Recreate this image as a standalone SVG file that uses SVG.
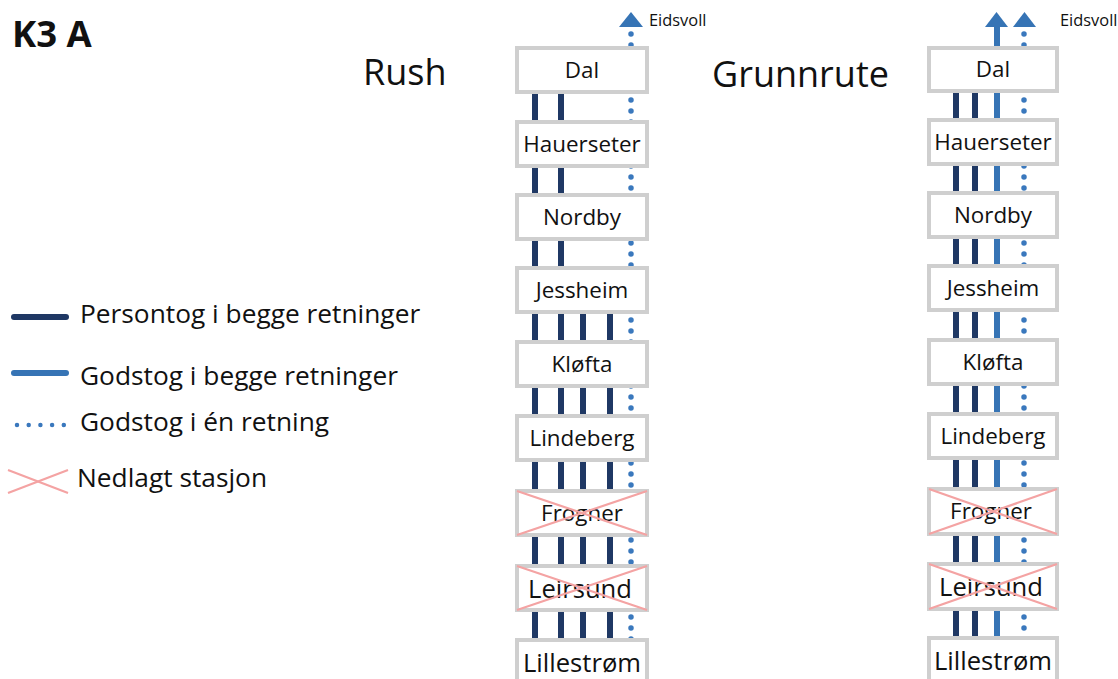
<svg xmlns="http://www.w3.org/2000/svg" width="1118" height="679" viewBox="0 0 1118 679">
  <style>
    text { font-family: "Open Sans", "Noto Sans", "Liberation Sans", sans-serif; fill: #111; }
    .st { font-size: 22.4px; text-anchor: middle; }
    .big { font-size: 25.6px; }
    .title { font-size: 36px; }
    .leg { font-size: 26.3px; }
    .small { font-size: 16.4px; }
    .box { fill: #fff; stroke: #cfcfcf; stroke-width: 4; }
    .pers { stroke: #1f3864; stroke-width: 6; fill: none; }
    .gods { stroke: #3674b5; stroke-width: 6; fill: none; }
    .dots { stroke: #3a78bd; stroke-width: 5.5; stroke-linecap: round; stroke-dasharray: 0 11; fill: none; }
    .cross { stroke: #f4a3a3; stroke-width: 2.2; fill: none; }
    .arrow { fill: #3674b5; }
  </style>

  <rect width="1118" height="679" fill="#fff"/>

  <!-- headings -->
  <text x="12" y="47" style="font-size:36.5px;font-weight:bold">K3 A</text>
  <text x="363" y="85" class="title">Rush</text>
  <text x="712" y="87" class="title">Grunnrute</text>

  <!-- legend -->
  <g id="legend">
    <line x1="14" y1="317" x2="66" y2="317" class="pers" stroke-linecap="round"/>
    <text x="80" y="323" class="leg">Persontog i begge retninger</text>
    <line x1="14" y1="373" x2="66" y2="373" class="gods" stroke-linecap="round"/>
    <text x="80" y="385" class="leg">Godstog i begge retninger</text>
    <line x1="17" y1="425" x2="64" y2="425" class="dots" style="stroke-width:4.5;stroke-dasharray:0 11.7"/>
    <text x="80" y="431" class="leg">Godstog i én retning</text>
    <line x1="8" y1="470" x2="68" y2="493" class="cross"/>
    <line x1="8" y1="493" x2="68" y2="470" class="cross"/>
    <text x="77" y="487" class="leg">Nedlagt stasjon</text>
  </g>

  <!-- connectors -->
  <g id="connectors">
    <!-- Rush -->
    <line x1="535" y1="80" x2="535" y2="679" class="pers"/>
    <line x1="561" y1="80" x2="561" y2="679" class="pers"/>
    <line x1="583" y1="290" x2="583" y2="679" class="pers"/>
    <line x1="610" y1="290" x2="610" y2="679" class="pers"/>
    <line x1="631" y1="34" x2="631" y2="679" class="dots"/>
    <polygon points="619,27 643,27 631,12" class="arrow"/>
    <!-- Grunnrute -->
    <line x1="956" y1="80" x2="956" y2="679" class="pers"/>
    <line x1="975" y1="80" x2="975" y2="679" class="pers"/>
    <line x1="997" y1="24" x2="997" y2="679" class="gods"/>
    <polygon points="985,27 1008,27 996.5,12" class="arrow"/>
    <line x1="1024" y1="34" x2="1024" y2="679" class="dots"/>
    <polygon points="1013,27 1036,27 1024.5,12" class="arrow"/>
  </g>

  <text x="649" y="26" class="small">Eidsvoll</text>
  <text x="1060" y="26" class="small">Eidsvoll</text>

  <!-- Rush stations -->
  <g id="r-dal"><rect x="517" y="48" width="130" height="44" class="box"/><text x="582" y="78" class="st">Dal</text></g>
  <g id="r-hauerseter"><rect x="517" y="122" width="130" height="44" class="box"/><text x="582" y="152" class="st">Hauerseter</text></g>
  <g id="r-nordby"><rect x="517" y="195" width="130" height="44" class="box"/><text x="582" y="225" class="st">Nordby</text></g>
  <g id="r-jessheim"><rect x="517" y="268" width="130" height="44" class="box"/><text x="582" y="298" class="st">Jessheim</text></g>
  <g id="r-klofta"><rect x="517" y="342" width="130" height="44" class="box"/><text x="582" y="372" class="st">Kløfta</text></g>
  <g id="r-lindeberg"><rect x="517" y="416" width="130" height="44" class="box"/><text x="582" y="446" class="st">Lindeberg</text></g>
  <g id="r-frogner"><rect x="517" y="491" width="130" height="44" class="box"/><text x="582" y="521" class="st">Frogner</text>
    <line x1="517" y1="491" x2="647" y2="535" class="cross"/><line x1="517" y1="535" x2="647" y2="491" class="cross"/></g>
  <g id="r-leirsund"><rect x="517" y="566" width="130" height="44" class="box"/><text x="580" y="598" class="st big">Leirsund</text>
    <line x1="517" y1="566" x2="647" y2="610" class="cross"/><line x1="517" y1="610" x2="647" y2="566" class="cross"/></g>
  <g id="r-lillestrom"><rect x="517" y="640" width="130" height="44" class="box"/><text x="582" y="672" class="st big">Lillestrøm</text></g>

  <!-- Grunnrute stations -->
  <g id="g-dal"><rect x="929" y="48" width="128" height="43" class="box"/><text x="993" y="77" class="st">Dal</text></g>
  <g id="g-hauerseter"><rect x="929" y="120" width="128" height="44" class="box"/><text x="993" y="150" class="st">Hauerseter</text></g>
  <g id="g-nordby"><rect x="929" y="193" width="128" height="44" class="box"/><text x="993" y="223" class="st">Nordby</text></g>
  <g id="g-jessheim"><rect x="929" y="266" width="128" height="44" class="box"/><text x="993" y="296" class="st">Jessheim</text></g>
  <g id="g-klofta"><rect x="929" y="340" width="128" height="44" class="box"/><text x="993" y="370" class="st">Kløfta</text></g>
  <g id="g-lindeberg"><rect x="929" y="414" width="128" height="44" class="box"/><text x="993" y="444" class="st">Lindeberg</text></g>
  <g id="g-frogner"><rect x="929" y="489" width="128" height="45" class="box"/><text x="991" y="519" class="st">Frogner</text>
    <line x1="929" y1="489" x2="1057" y2="534" class="cross"/><line x1="929" y1="534" x2="1057" y2="489" class="cross"/></g>
  <g id="g-leirsund"><rect x="929" y="564" width="128" height="45" class="box"/><text x="991" y="596" class="st big">Leirsund</text>
    <line x1="929" y1="564" x2="1057" y2="609" class="cross"/><line x1="929" y1="609" x2="1057" y2="564" class="cross"/></g>
  <g id="g-lillestrom"><rect x="929" y="638" width="128" height="46" class="box"/><text x="993" y="670" class="st big">Lillestrøm</text></g>
</svg>
